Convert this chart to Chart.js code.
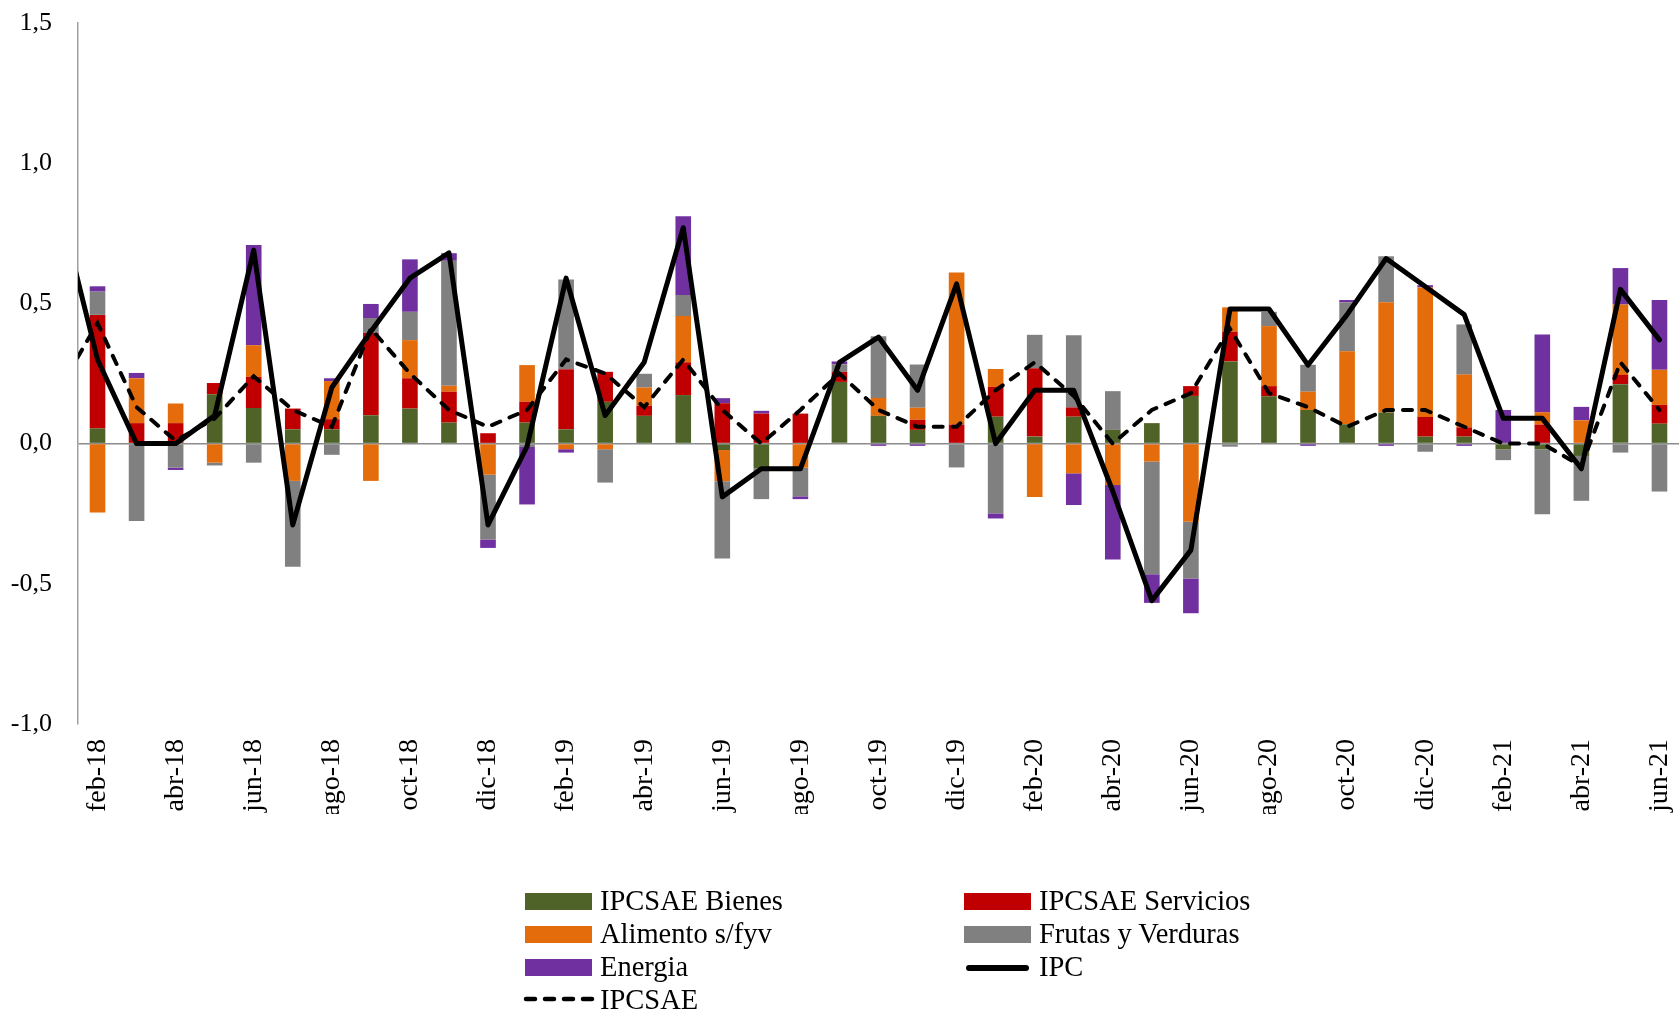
<!DOCTYPE html>
<html>
<head>
<meta charset="utf-8">
<script src="https://cdn.jsdelivr.net/npm/chart.js@4.4.0/dist/chart.umd.min.js"></script>
<style>
  html, body { margin: 0; padding: 0; background: #fff; }
  #wrap { position: relative; width: 1679px; height: 1012px; }
  #c { position: absolute; left: 0; top: 0; }
  .lg { position: absolute; font-family: 'Liberation Serif', 'Times New Roman', serif; font-size: 28.5px; color: #000; line-height: 30px; white-space: nowrap; }
  .sw { position: absolute; width: 67px; height: 17px; }
  .ln { position: absolute; width: 67px; height: 0; }
</style>
</head>
<body>
<div id="wrap">
  <canvas id="c" width="1679" height="1012"></canvas>
  <div class="sw" style="left:525px;top:893px;background:#4f6228"></div>
  <div class="lg" style="left:600px;top:886px">IPCSAE Bienes</div>
  <div class="sw" style="left:964px;top:893px;background:#c00000"></div>
  <div class="lg" style="left:1039px;top:886px">IPCSAE Servicios</div>
  <div class="sw" style="left:525px;top:926px;background:#e46c0a"></div>
  <div class="lg" style="left:600px;top:919px">Alimento s/fyv</div>
  <div class="sw" style="left:964px;top:926px;background:#808080"></div>
  <div class="lg" style="left:1039px;top:919px">Frutas y Verduras</div>
  <div class="sw" style="left:525px;top:959px;background:#7030a0"></div>
  <div class="lg" style="left:600px;top:952px">Energia</div>
  <div class="ln" style="left:966px;top:965px;width:63px;border-top:6px solid #000;border-radius:3px"></div>
  <div class="lg" style="left:1039px;top:952px">IPC</div>
  <svg style="position:absolute;left:522px;top:993px" width="74" height="12"><line x1="4" y1="6" x2="70" y2="6" stroke="#000" stroke-width="4.5" stroke-dasharray="9 10" stroke-linecap="round"/></svg>
  <div class="lg" style="left:600px;top:985px">IPCSAE</div>
</div>
<script>
// Categories (ene-18 is only a lead point for the lines; the axis starts at feb-18)
const categories = ['ene-18','feb-18','mar-18','abr-18','may-18','jun-18','jul-18','ago-18','sep-18','oct-18','nov-18','dic-18',
  'ene-19','feb-19','mar-19','abr-19','may-19','jun-19','jul-19','ago-19','sep-19','oct-19','nov-19','dic-19',
  'ene-20','feb-20','mar-20','abr-20','may-20','jun-20','jul-20','ago-20','sep-20','oct-20','nov-20','dic-20',
  'ene-21','feb-21','mar-21','abr-21','may-21','jun-21'];

const bienes = [null,
  0.054, 0, 0, 0.176, 0.127, 0.051, 0.051, 0.101, 0.125, 0.075, 0,
  0.075, 0.051, 0.149, 0.099, 0.173, -0.023, -0.088, 0, 0.220, 0.099, 0.049, 0,
  0.096, 0.025, 0.096, 0.049, 0.073, 0.170, 0.293, 0.169, 0.120, 0.069, 0.111, 0.025,
  0.025, -0.020, -0.020, -0.044, 0.212, 0.071];
const servicios = [null,
  0.405, 0.073, 0.073, 0.040, 0.111, 0.074, 0.036, 0.293, 0.108, 0.110, 0.037,
  0.074, 0.214, 0.107, 0.036, 0.117, 0.144, 0.107, 0.107, 0.036, 0, 0.036, 0.068,
  0.106, 0.244, 0.033, 0, 0, 0.035, 0.106, 0.036, 0, 0, 0, 0.070,
  0.033, 0, 0.068, 0, 0.033, 0.067];
const alimento = [null,
  -0.246, 0.160, 0.070, -0.068, 0.113, -0.133, 0.136, -0.133, 0.136, 0.021, -0.111,
  0.131, -0.020, -0.020, 0.065, 0.165, -0.111, 0, -0.086, 0, 0.064, 0.043, 0.542,
  0.064, -0.190, -0.106, -0.148, -0.064, -0.279, 0.087, 0.214, 0.065, 0.260, 0.393, 0.462,
  0.188, 0, 0.044, 0.083, 0.251, 0.125];
const frutas = [null,
  0.083, -0.276, -0.086, -0.010, -0.068, -0.306, -0.040, 0.054, 0.101, 0.446, -0.231,
  -0.012, 0.320, -0.119, 0.049, 0.075, -0.276, -0.110, -0.102, 0.027, 0.220, 0.154, -0.085,
  -0.249, 0.119, 0.257, 0.138, -0.402, -0.202, -0.011, 0.051, 0.096, 0.175, 0.164, -0.029,
  0.179, -0.039, -0.232, -0.160, -0.032, -0.171];
const energia = [null,
  0.019, 0.019, -0.008, 0, 0.357, 0, 0.010, 0.050, 0.187, 0.027, -0.030,
  -0.205, -0.012, 0, 0, 0.281, 0.018, 0.010, -0.010, 0.010, -0.008, -0.008, 0,
  -0.018, 0, -0.113, -0.265, -0.102, -0.124, 0, 0, -0.008, 0.008, -0.008, 0.008,
  -0.008, 0.120, 0.277, 0.048, 0.130, 0.249];
const ipc = [0.86,
  0.30, 0.00, 0.00, 0.10, 0.69, -0.29, 0.20, 0.40, 0.59, 0.68, -0.29,
  -0.01, 0.59, 0.10, 0.29, 0.77, -0.19, -0.09, -0.09, 0.29, 0.38, 0.19, 0.57,
  0.00, 0.19, 0.19, -0.17, -0.56, -0.38, 0.48, 0.48, 0.28, 0.46, 0.66, 0.56,
  0.46, 0.09, 0.09, -0.09, 0.55, 0.37];
const ipcsae = [0.19,
  0.43, 0.13, 0.01, 0.09, 0.24, 0.12, 0.06, 0.41, 0.25, 0.12, 0.06,
  0.12, 0.30, 0.25, 0.13, 0.30, 0.12, 0.00, 0.12, 0.25, 0.12, 0.06, 0.06,
  0.19, 0.29, 0.17, 0.00, 0.12, 0.18, 0.41, 0.18, 0.13, 0.06, 0.12, 0.12,
  0.06, 0.00, 0.00, -0.08, 0.29, 0.12];
const yTicks = [-1.0, -0.5, 0.0, 0.5, 1.0, 1.5];

const FONT = "'Liberation Serif', 'Times New Roman', serif";
const barCommon = { type: 'bar', stack: 'bars', order: 2, barPercentage: 0.4, categoryPercentage: 1.0, borderWidth: 0 };

new Chart(document.getElementById('c'), {
  data: {
    labels: categories,
    datasets: [
      { type: 'line', label: 'IPC', data: ipc, stack: 'ipc', order: 0, borderColor: '#000', borderWidth: 5,
        pointRadius: 0, fill: false, tension: 0, borderJoinStyle: 'round', borderCapStyle: 'round' },
      { type: 'line', label: 'IPCSAE', data: ipcsae, stack: 'ipcsae', order: 1, borderColor: '#000', borderWidth: 4,
        borderDash: [9, 10], borderCapStyle: 'round', pointRadius: 0, fill: false, tension: 0 },
      Object.assign({ label: 'IPCSAE Bienes', data: bienes, backgroundColor: '#4f6228' }, barCommon),
      Object.assign({ label: 'IPCSAE Servicios', data: servicios, backgroundColor: '#c00000' }, barCommon),
      Object.assign({ label: 'Alimento s/fyv', data: alimento, backgroundColor: '#e46c0a' }, barCommon),
      Object.assign({ label: 'Frutas y Verduras', data: frutas, backgroundColor: '#808080' }, barCommon),
      Object.assign({ label: 'Energia', data: energia, backgroundColor: '#7030a0' }, barCommon)
    ]
  },
  options: {
    responsive: false,
    animation: false,
    layout: { padding: { left: 0, right: 0, top: 23, bottom: 198 } },
    plugins: { legend: { display: false }, tooltip: { enabled: false } },
    scales: {
      x: {
        type: 'category',
        min: 'feb-18',
        offset: true,
        stacked: true,
        grid: { display: false, drawTicks: false },
        border: { display: false },
        afterFit: s => { s.height = 90; s.paddingLeft = 0; s.paddingRight = 0; s.paddingTop = 0; s.paddingBottom = 0; },
        ticks: {
          autoSkip: false, minRotation: 90, maxRotation: 90, padding: 15,
          color: '#000', font: { family: FONT, size: 28 },
          callback: function (value, index) { return index % 2 === 0 ? this.getLabelForValue(value) : ''; }
        }
      },
      y: {
        stacked: true,
        min: yTicks[0], max: yTicks[yTicks.length - 1],
        afterFit: s => { s.width = 78; s.paddingTop = 0; s.paddingBottom = 0; s.paddingLeft = 0; s.paddingRight = 0; },
        afterBuildTicks: s => { s.ticks = yTicks.map(v => ({ value: v })); },
        grid: { drawTicks: false, lineWidth: 1.5, color: ctx => (ctx.tick && ctx.tick.value === 0 ? '#8c8c8c' : 'rgba(0,0,0,0)') },
        border: { display: true, color: '#a0a0a0', width: 1.5 },
        ticks: {
          padding: 26, color: '#000', font: { family: FONT, size: 26 },
          callback: v => v.toFixed(1).replace('.', ',')
        }
      }
    }
  }
});
</script>
</body>
</html>
